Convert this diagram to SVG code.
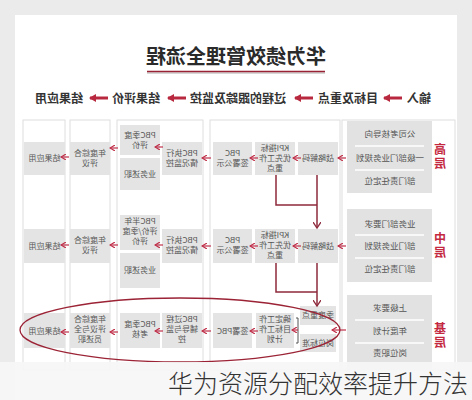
<svg xmlns="http://www.w3.org/2000/svg" width="472" height="400" viewBox="0 0 472 400">
<defs>
<style>
.bg{fill:#ebebeb}
.panel{fill:#ffffff}
.col{fill:#ffffff;stroke:#dedede;stroke-width:1}
.box{fill:#e4e4e4}
.lvl{fill:#e2e2e2}
.sep{stroke:#ffffff;stroke-width:1.5}
.t{font-family:"Noto Sans CJK SC","Liberation Sans",sans-serif;font-size:8px;fill:#555;text-anchor:middle}
.li{font-family:"Noto Sans CJK SC","Liberation Sans",sans-serif;font-size:8.5px;fill:#555;text-anchor:middle}
.lab{font-family:"Noto Sans CJK SC",sans-serif;font-size:12px;font-weight:bold;fill:#c4283f;text-anchor:middle;writing-mode:vertical-rl;letter-spacing:2px}
.flow{font-family:"Noto Sans CJK SC",sans-serif;font-size:12px;font-weight:bold;fill:#333;text-anchor:middle}
.title{font-family:"Noto Sans CJK SC",sans-serif;font-size:20px;font-weight:bold;fill:#2a2a2a;text-anchor:middle}
.a{stroke:#c0304a;stroke-width:1.2;fill:none;marker-end:url(#ah)}
.fa{stroke:#b8283e;stroke-width:3;fill:none;marker-end:url(#fah)}
.c{stroke:#8e2a3c;stroke-width:1.5;fill:none}
.ca{stroke:#8e2a3c;stroke-width:1.5;fill:none;marker-end:url(#ch)}
</style>
<marker id="ah" markerWidth="6" markerHeight="6" refX="5" refY="3" orient="auto" markerUnits="userSpaceOnUse"><path d="M0,0 L5,3 L0,6" fill="none" stroke="#c0304a" stroke-width="1.2"/></marker>
<marker id="fah" markerWidth="8" markerHeight="8" refX="6" refY="4" orient="auto" markerUnits="userSpaceOnUse"><path d="M0,0 L7,4 L0,8 Z" fill="#b8283e"/></marker>
<marker id="ch" markerWidth="8" markerHeight="8" refX="6" refY="4" orient="auto" markerUnits="userSpaceOnUse"><path d="M0,0 L6,4 L0,8" fill="none" stroke="#8e2a3c" stroke-width="1.3"/></marker>
</defs>
<rect class="bg" x="0" y="0" width="472" height="400"/>
<g transform="matrix(-1 0 0 1 472 0)">
<rect class="panel" x="15" y="15" width="442" height="385"/>
<g id="title">
<text class="title" x="236" y="64">华为绩效管理全流程</text>
<line x1="147" y1="73" x2="325" y2="73" stroke="#c9c9c9" stroke-width="1.5"/>
<line x1="147" y1="71.5" x2="325" y2="71.5" stroke="#9a2235" stroke-width="1.5"/>
</g>
<g id="flow">
<text class="flow" x="53" y="103">输入</text>
<text class="flow" x="124" y="103">目标及重点</text>
<text class="flow" x="234" y="103">过程的跟踪及监控</text>
<text class="flow" x="336" y="103">结果评价</text>
<text class="flow" x="413" y="103">结果应用</text>
</g>
<g id="columns">
<rect class="col" x="17" y="120" width="113" height="250"/>
<rect class="col" x="132" y="120" width="130" height="250"/>
<rect class="col" x="269" y="120" width="86" height="250"/>
<rect class="col" x="362" y="120" width="40" height="250"/>
<rect class="col" x="407" y="120" width="42" height="250"/>
</g>
<g id="level-high">
<rect class="lvl" x="40" y="121" width="85" height="72"/>
<line class="sep" x1="48" y1="146" x2="117" y2="146"/>
<line class="sep" x1="48" y1="170" x2="117" y2="170"/>
<text class="li" x="82" y="137">公司考核导向</text>
<text class="li" x="82" y="161">一级部门业务规划</text>
<text class="li" x="82" y="184">部门责任定位</text>
<text class="lab" x="32" y="157">高层</text>
</g>
<g id="level-mid">
<rect class="lvl" x="40" y="209" width="85" height="73"/>
<line class="sep" x1="48" y1="235" x2="117" y2="235"/>
<line class="sep" x1="48" y1="258" x2="117" y2="258"/>
<text class="li" x="82" y="227">业务部门要求</text>
<text class="li" x="82" y="249">部门业务规划</text>
<text class="li" x="82" y="272">部门责任定位</text>
<text class="lab" x="32" y="246">中层</text>
</g>
<g id="level-base">
<rect class="lvl" x="40" y="295" width="85" height="75"/>
<line class="sep" x1="48" y1="320" x2="117" y2="320"/>
<line class="sep" x1="48" y1="343" x2="117" y2="343"/>
<text class="li" x="82" y="311">上级要求</text>
<text class="li" x="82" y="334">年度计划</text>
<text class="li" x="82" y="356">岗位职责</text>
<text class="lab" x="32" y="336">基层</text>
</g>
<g id="h-decode"><rect class="box" x="134" y="142" width="40" height="33"/><text class="t" x="154" y="161">战略解码</text></g>
<g id="h-kpi"><rect class="box" x="177" y="142" width="40" height="33"/><text class="t" x="197" y="151">KPI指标</text><text class="t" x="197" y="161">优先工作</text><text class="t" x="197" y="171">重点</text></g>
<g id="h-sign"><rect class="box" x="220" y="142" width="39" height="33"/><text class="t" x="239.5" y="156">PBC</text><text class="t" x="239.5" y="166">签署公示</text></g>
<g id="h-exec"><rect class="box" x="270" y="142" width="40" height="33"/><text class="t" x="290" y="156">PBC执行</text><text class="t" x="290" y="166">情况监控</text></g>
<g id="h-quarter"><rect class="box" x="312" y="125" width="40" height="30"/><text class="t" x="332" y="138">PBC季度</text><text class="t" x="332" y="148">评价</text></g>
<g id="h-report"><rect class="box" x="312" y="158" width="40" height="32"/><text class="t" x="332" y="177">业务述职</text></g>
<g id="h-annual"><rect class="box" x="362" y="142" width="40" height="33"/><text class="t" x="382" y="156">年度综合</text><text class="t" x="382" y="166">评议</text></g>
<g id="h-apply"><rect class="box" x="407" y="142" width="41" height="33"/><text class="t" x="427.5" y="161">结果应用</text></g>
<g id="m-decode"><rect class="box" x="134" y="229" width="40" height="34"/><text class="t" x="154" y="249">战略解码</text></g>
<g id="m-kpi"><rect class="box" x="177" y="229" width="40" height="34"/><text class="t" x="197" y="238">KPI指标</text><text class="t" x="197" y="248">优先工作</text><text class="t" x="197" y="258">重点</text></g>
<g id="m-sign"><rect class="box" x="220" y="229" width="39" height="34"/><text class="t" x="239.5" y="243">PBC</text><text class="t" x="239.5" y="253">签署公示</text></g>
<g id="m-exec"><rect class="box" x="270" y="229" width="40" height="34"/><text class="t" x="290" y="243">PBC执行</text><text class="t" x="290" y="253">情况监控</text></g>
<g id="m-half"><rect class="box" x="312" y="215" width="40" height="35"/><text class="t" x="332" y="224">PBC半年</text><text class="t" x="332" y="234">评价/季度</text><text class="t" x="332" y="244">评价</text></g>
<g id="m-report"><rect class="box" x="312" y="253" width="40" height="35"/><text class="t" x="332" y="273">业务述职</text></g>
<g id="m-annual"><rect class="box" x="362" y="229" width="40" height="34"/><text class="t" x="382" y="243">年度综合</text><text class="t" x="382" y="253">评议</text></g>
<g id="m-apply"><rect class="box" x="407" y="229" width="41" height="34"/><text class="t" x="427.5" y="249">结果应用</text></g>
<g id="b-focus"><rect class="box" x="136" y="306" width="36" height="19"/><text class="t" x="154" y="318">季度重点</text></g>
<g id="b-standard"><rect class="box" x="136" y="334" width="36" height="18"/><text class="t" x="154" y="346">岗位标准</text></g>
<g id="b-plan"><rect class="box" x="178" y="313" width="38" height="35"/><text class="t" x="197" y="322">确定工作</text><text class="t" x="197" y="332">目标工作</text><text class="t" x="197" y="342">计划</text></g>
<g id="b-sign"><rect class="box" x="220" y="313" width="39" height="35"/><text class="t" x="239.5" y="334">签署PBC</text></g>
<g id="b-coach"><rect class="box" x="270" y="313" width="40" height="35"/><text class="t" x="290" y="322">PBC过程</text><text class="t" x="290" y="332">辅导与监</text><text class="t" x="290" y="342">控</text></g>
<g id="b-quarter"><rect class="box" x="312" y="313" width="40" height="35"/><text class="t" x="332" y="327">PBC季度</text><text class="t" x="332" y="337">考核</text></g>
<g id="b-annual"><rect class="box" x="362" y="313" width="40" height="35"/><text class="t" x="382" y="322">年度综合</text><text class="t" x="382" y="332">评议与全</text><text class="t" x="382" y="342">员述职</text></g>
<g id="b-apply"><rect class="box" x="407" y="313" width="41" height="35"/><text class="t" x="427.5" y="334">结果应用</text></g>
<g id="connectors">
<path class="fa" d="M70,98 H88"/>
<path class="fa" d="M159,98 H177"/>
<path class="fa" d="M286,98 H304"/>
<path class="fa" d="M364,98 H382"/>
<path class="a" d="M126,158 H134"/>
<path class="a" d="M171,158 H179"/>
<path class="a" d="M214,158 H222"/>
<path class="a" d="M261,158 H270"/>
<path class="a" d="M309,147 H317"/>
<path class="a" d="M354,148 H362"/>
<path class="a" d="M403,157 H411"/>
<path class="a" d="M126,246 H134"/>
<path class="a" d="M171,246 H179"/>
<path class="a" d="M214,246 H222"/>
<path class="a" d="M261,246 H270"/>
<path class="a" d="M309,245 H317"/>
<path class="a" d="M354,245 H362"/>
<path class="a" d="M403,245 H411"/>
<path class="a" d="M126,330 H140"/>
<path d="M176,318 H174 V343 H176" fill="none" stroke="#555" stroke-width="1"/>
<path class="a" d="M174,330 H180"/>
<path class="a" d="M214,331 H222"/>
<path class="a" d="M261,331 H270"/>
<path class="a" d="M309,331 H317"/>
<path class="a" d="M354,332 H362"/>
<path class="a" d="M403,332 H411"/>
<path class="c" d="M196,175 V205 H155"/>
<path class="ca" d="M155,175 V228"/>
<path class="c" d="M196,263 V292 H155"/>
<path class="ca" d="M155,263 V306"/>
<ellipse cx="292" cy="330" rx="160" ry="32" fill="none" stroke="#9b2335" stroke-width="1.3"/>
</g>
</g>
<rect x="0" y="362" width="472" height="38" fill="#f6f6f6" opacity="0.92"/>
<text x="318" y="393" font-family="Noto Sans CJK SC, sans-serif" font-size="25" font-weight="300" fill="#333" text-anchor="middle">华为资源分配效率提升方法</text>
</svg>
